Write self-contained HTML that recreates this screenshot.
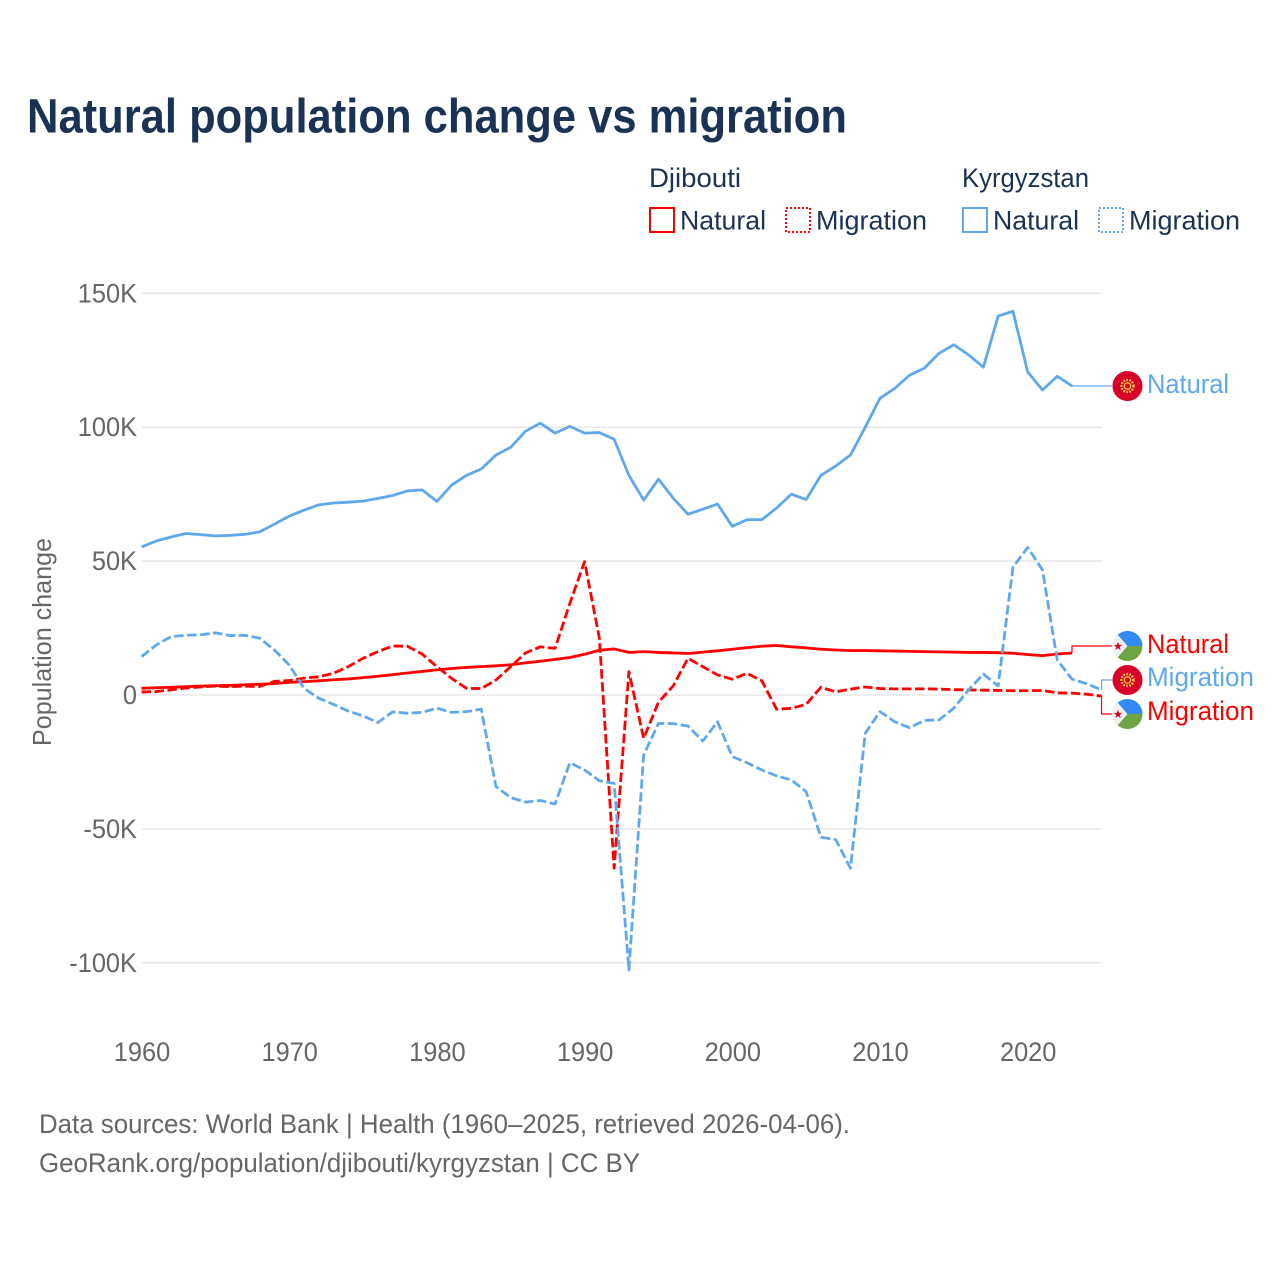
<!DOCTYPE html>
<html lang="en">
<head>
<meta charset="utf-8">
<title>Natural population change vs migration</title>
<style>
html,body{margin:0;padding:0;background:#fff;width:1280px;height:1280px;overflow:hidden}
svg{display:block}
text{font-family:"Liberation Sans",sans-serif}
</style>
</head>
<body>
<svg id="chart" xmlns="http://www.w3.org/2000/svg" width="1280" height="1280" viewBox="0 0 1280 1280">
  <rect x="0" y="0" width="1280" height="1280" fill="#ffffff"/>
  <text x="27" y="132.5" font-size="48" font-weight="700" fill="#1a3254" textLength="820" lengthAdjust="spacingAndGlyphs">Natural population change vs migration</text>

  <g font-size="27" fill="#1a3254">
    <text x="649" y="187" textLength="92" lengthAdjust="spacingAndGlyphs">Djibouti</text>
    <text x="962" y="187" textLength="127" lengthAdjust="spacingAndGlyphs">Kyrgyzstan</text>
    <rect x="650" y="208" width="24" height="24" fill="none" stroke="#ff0000" stroke-width="2"/>
    <text x="680" y="229.5" textLength="86" lengthAdjust="spacingAndGlyphs">Natural</text>
    <rect x="786" y="208" width="24" height="24" fill="none" stroke="#ff0000" stroke-width="2" stroke-dasharray="2 2"/>
    <text x="816" y="229.5" textLength="111" lengthAdjust="spacingAndGlyphs">Migration</text>
    <rect x="963" y="208" width="24" height="24" fill="none" stroke="#5fa8ee" stroke-width="2"/>
    <text x="993" y="229.5" textLength="86" lengthAdjust="spacingAndGlyphs">Natural</text>
    <rect x="1099" y="208" width="24" height="24" fill="none" stroke="#5fa8ee" stroke-width="2" stroke-dasharray="2 2"/>
    <text x="1129" y="229.5" textLength="111" lengthAdjust="spacingAndGlyphs">Migration</text>
  </g>

  <text transform="translate(51,642) rotate(-90)" text-anchor="middle" font-size="26" fill="#666666" textLength="208" lengthAdjust="spacingAndGlyphs">Population change</text>

  <g id="grid"></g>
  <g id="yticks"></g>
  <g id="xticks"></g>
  <g id="series"></g>
  <g id="connectors"></g>

  <defs>
    <clipPath id="flag-clip"><circle cx="0" cy="0" r="15"/></clipPath>
    <g id="flag-kg">
      <circle cx="0" cy="0" r="15" fill="#d80027"/>
      <circle cx="0" cy="0" r="6" fill="none" stroke="#ffda44" stroke-width="2.4" stroke-dasharray="1.6 1.4"/>
      <circle cx="0" cy="0" r="3.2" fill="none" stroke="#ffda44" stroke-width="1.2"/>
    </g>
    <g id="flag-dj">
      <g clip-path="url(#flag-clip)">
        <rect x="-15" y="-15" width="30" height="15" fill="#338af3"/>
        <rect x="-15" y="0" width="30" height="15" fill="#6da544"/>
        <polygon points="-15,-15 -13,-15 0,0 -13,15 -15,15" fill="#f0f0f0"/>
        <polygon points="-15,-12 -4,0 -15,12" fill="#f0f0f0"/>
      </g>
      <polygon points="-9.5,-4.2 -8.4,-1.1 -5.2,-1.1 -7.8,0.9 -6.8,4 -9.5,2.1 -12.2,4 -11.2,0.9 -13.8,-1.1 -10.6,-1.1" fill="#d80027"/>
    </g>
  </defs>

  <g font-size="27">
    <g transform="translate(1127.5,386)"><use href="#flag-kg"/></g>
    <text x="1147" y="393" fill="#5fa8ee" textLength="82" lengthAdjust="spacingAndGlyphs">Natural</text>
    <g transform="translate(1127.5,646)"><use href="#flag-dj"/></g>
    <text x="1147" y="653" fill="#ff0000" textLength="82" lengthAdjust="spacingAndGlyphs">Natural</text>
    <g transform="translate(1127.5,680)"><use href="#flag-kg"/></g>
    <text x="1147" y="686" fill="#5fa8ee" textLength="107" lengthAdjust="spacingAndGlyphs">Migration</text>
    <g transform="translate(1127.5,714)"><use href="#flag-dj"/></g>
    <text x="1147" y="720" fill="#ff0000" textLength="107" lengthAdjust="spacingAndGlyphs">Migration</text>
  </g>

  <g font-size="27" fill="#666666">
    <text x="39" y="1133" textLength="811" lengthAdjust="spacingAndGlyphs">Data sources: World Bank | Health (1960–2025, retrieved 2026-04-06).</text>
    <text x="39" y="1172" textLength="601" lengthAdjust="spacingAndGlyphs">GeoRank.org/population/djibouti/kyrgyzstan | CC BY</text>
  </g>
</svg>

<script>
const years = [1960,1961,1962,1963,1964,1965,1966,1967,1968,1969,1970,1971,1972,1973,1974,1975,1976,1977,1978,1979,1980,1981,1982,1983,1984,1985,1986,1987,1988,1989,1990,1991,1992,1993,1994,1995,1996,1997,1998,1999,2000,2001,2002,2003,2004,2005,2006,2007,2008,2009,2010,2011,2012,2013,2014,2015,2016,2017,2018,2019,2020,2021,2022,2023,2024,2025];
const yTickValues = [150,100,50,0,-50,-100];
const yTickLabels = ['150K','100K','50K','0','-50K','-100K'];
const xTickValues = [1960,1970,1980,1990,2000,2010,2020];
const xTickLabels = ['1960','1970','1980','1990','2000','2010','2020'];

// Values in thousands, one per year from 1960
const djiboutiNatural = [2.5,2.7,2.9,3.1,3.3,3.5,3.6,3.8,4.0,4.3,4.7,5.0,5.3,5.7,6.0,6.5,7.0,7.6,8.2,8.8,9.4,9.9,10.3,10.6,10.9,11.3,12.0,12.6,13.3,14.0,15.2,16.7,17.2,15.9,16.2,15.9,15.7,15.5,16.0,16.5,17.1,17.7,18.2,18.5,18.0,17.6,17.1,16.8,16.6,16.6,16.5,16.4,16.3,16.2,16.1,16.0,15.9,15.9,15.8,15.6,15.1,14.7,15.3,15.7];
const djiboutiMigration = [1.1,1.3,1.9,2.6,3.0,3.3,3.1,3.3,3.2,5.1,5.4,6.3,6.8,8.1,10.6,13.7,16.2,18.3,18.2,15.3,10.6,6.2,2.5,2.4,5.6,10.6,15.7,18.0,17.4,34.2,49.8,21.2,-64.7,8.7,-16.2,-2.7,3.4,13.7,10.6,7.5,5.9,8.1,5.3,-5.3,-5.0,-3.5,2.9,1.2,2.2,3.0,2.4,2.3,2.3,2.3,2.2,2.0,1.9,1.8,1.7,1.6,1.6,1.7,0.8,0.7,0.3,-0.4];
const kyrgyzstanNatural = [55.3,57.5,59.0,60.3,59.9,59.4,59.6,60.0,60.9,63.8,66.8,69.0,71.0,71.7,72.0,72.4,73.4,74.5,76.2,76.6,72.3,78.4,82.0,84.4,89.6,92.5,98.5,101.5,97.8,100.3,97.8,98.0,95.5,82.0,72.8,80.6,73.5,67.5,69.4,71.3,63.0,65.5,65.5,69.8,75.0,73.0,82.0,85.5,89.6,100.0,110.8,114.5,119.4,122.0,127.6,130.8,127.0,122.4,141.5,143.3,120.6,113.9,119.0,115.4];
const kyrgyzstanMigration = [14.3,18.7,21.8,22.3,22.5,23.2,22.2,22.3,21.2,16.8,11.2,2.5,-1.2,-3.5,-6.0,-7.8,-10.3,-6.3,-6.8,-6.5,-4.9,-6.5,-6.2,-5.3,-34.2,-38.3,-40.0,-39.4,-40.7,-25.3,-28.0,-32.0,-33.0,-102.7,-22.4,-10.6,-10.7,-11.6,-17.2,-10.0,-23.0,-25.3,-28.0,-30.2,-31.7,-36.1,-53.1,-54.0,-64.7,-14.3,-6.2,-10.0,-12.2,-9.5,-9.3,-4.9,1.9,7.8,3.4,47.7,55.1,46.7,13.1,5.9,4.2,1.9];

const NS = 'http://www.w3.org/2000/svg';
const RED = '#ff0000';
const BLUE = '#5fa8ee';
function xScale(year){ return 141.5 + (year - 1960) * 14.77; }
function yScale(v){ return 695 - v * 2.678; }
function make(tag, attrs, parent){
  const el = document.createElementNS(NS, tag);
  for (const k in attrs) el.setAttribute(k, attrs[k]);
  parent.appendChild(el);
  return el;
}
function condense(label){
  label.setAttribute('textLength', (label.getComputedTextLength() * 0.94).toFixed(2));
  label.setAttribute('lengthAdjust', 'spacingAndGlyphs');
}

const grid = document.getElementById('grid');
const yticks = document.getElementById('yticks');
yTickValues.forEach(function(v, i){
  const line = make('line', {x1:142, x2:1102, y1:yScale(v), y2:yScale(v), stroke:'#e8e8e8', 'stroke-width':1.5}, grid);
  
  
  const label = make('text', {x:137, y:yScale(v)+9, 'text-anchor':'end', 'font-size':27, fill:'#666666'}, yticks);
  
  
  label.textContent = yTickLabels[i];
  condense(label);
});

const xticks = document.getElementById('xticks');
xTickValues.forEach(function(t, i){
  const label = make('text', {x:xScale(t)+0.5, y:1061, 'text-anchor':'middle', 'font-size':27, fill:'#666666'}, xticks);
  
  
  label.textContent = xTickLabels[i];
  condense(label);
});

function pointsOf(values){
  return values.map(function(v, i){ return xScale(years[i]).toFixed(2) + ',' + yScale(v).toFixed(2); }).join(' ');
}
const seriesGroup = document.getElementById('series');
function drawSeries(values, color, dashed){
  const line = make('polyline', {points:pointsOf(values), fill:'none', stroke:color, 'stroke-width':2.8, 'stroke-linejoin':'round'}, seriesGroup);
  if (dashed) line.setAttribute('stroke-dasharray', '9.5 3.5');
  return line;
}
const lineDN = drawSeries(djiboutiNatural, RED, false);


const lineDM = drawSeries(djiboutiMigration, RED, true);


const lineKN = drawSeries(kyrgyzstanNatural, BLUE, false);


const lineKM = drawSeries(kyrgyzstanMigration, BLUE, true);



const connectors = document.getElementById('connectors');
function drawConnector(values, labelY, color){
  const i = values.length - 1;
  const x0 = xScale(years[i]);
  const y0 = yScale(values[i]);
  return make('path', {d:'M' + x0 + ' ' + y0 + 'V' + labelY + 'H1112', fill:'none', stroke:color, 'stroke-width':1.2}, connectors);
}
const connKN = drawConnector(kyrgyzstanNatural, 386, BLUE);


const connDN = drawConnector(djiboutiNatural, 646, RED);


const connKM = drawConnector(kyrgyzstanMigration, 680, BLUE);


const connDM = drawConnector(djiboutiMigration, 714, RED);


</script>
</body>
</html>
